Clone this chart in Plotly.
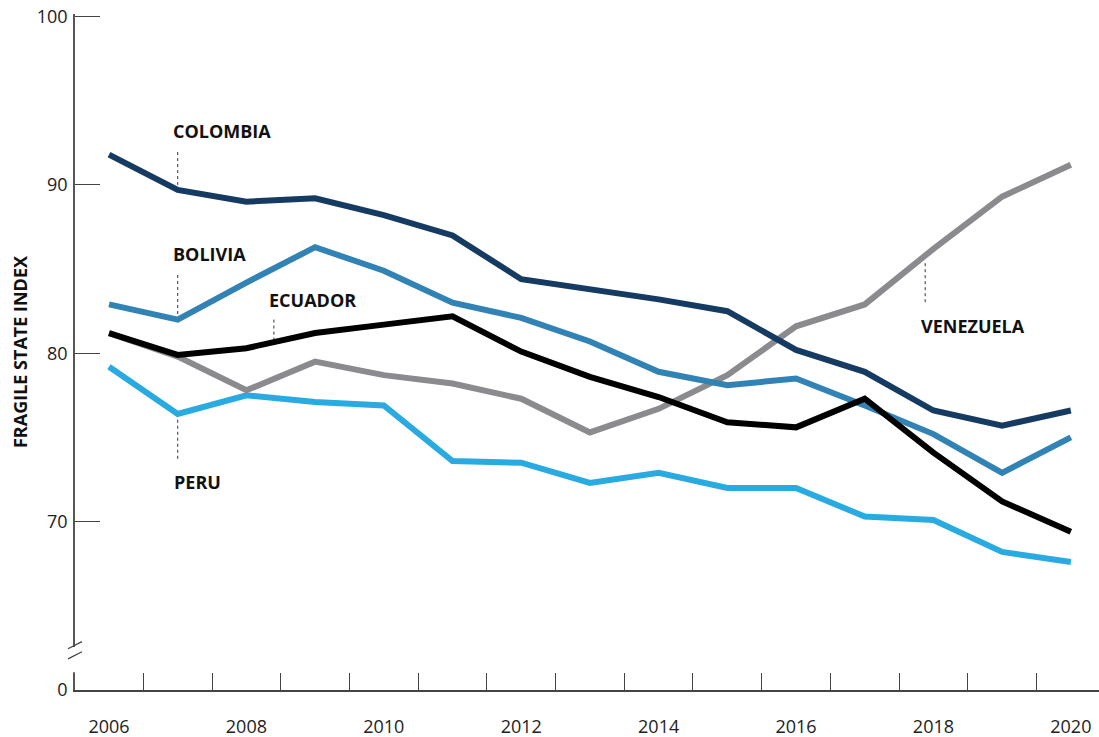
import plotly.graph_objects as go

years = list(range(2006, 2021))
colombia = [91.8, 89.7, 89.0, 89.2, 88.2, 87.0, 84.4, 83.8, 83.2, 82.5, 80.2, 78.9, 76.6, 75.7, 76.6]
bolivia = [82.9, 82.0, 84.2, 86.3, 84.9, 83.0, 82.1, 80.7, 78.9, 78.1, 78.5, 76.9, 75.2, 72.9, 75.0]
ecuador = [81.2, 79.9, 80.3, 81.2, 81.7, 82.2, 80.1, 78.6, 77.4, 75.9, 75.6, 77.3, 74.1, 71.2, 69.4]
venezuela = [81.2, 79.8, 77.8, 79.5, 78.7, 78.2, 77.3, 75.3, 76.7, 78.7, 81.6, 82.9, 86.2, 89.3, 91.2]
peru = [79.2, 76.4, 77.5, 77.1, 76.9, 73.6, 73.5, 72.3, 72.9, 72.0, 72.0, 70.3, 70.1, 68.2, 67.6]

series = [
    ("Peru", peru, "#29abe2"),
    ("Venezuela", venezuela, "#8b8b8f"),
    ("Bolivia", bolivia, "#3283b5"),
    ("Colombia", colombia, "#153b63"),
    ("Ecuador", ecuador, "#000000"),
]

ytick_vals = [60, 70, 80, 90, 100]
ytick_text = ["0", "70", "80", "90", "100"]
xtick_vals = [2006, 2008, 2010, 2012, 2014, 2016, 2018, 2020]
xminor_vals = [y + 0.5 for y in range(2006, 2020)]

# label: (text, text_x, text_y, leader_x, leader_y0, leader_y1)
labels = [
    ("COLOMBIA", 2006.90, 93.2, 2007, 91.95, 90.0),
    ("BOLIVIA", 2006.90, 85.9, 2007, 84.65, 82.3),
    ("ECUADOR", 2008.30, 83.18, 2008.4, 82.0, 80.85),
    ("PERU", 2006.92, 72.37, 2007, 76.05, 73.7),
    ("VENEZUELA", 2017.79, 81.64, 2017.88, 85.35, 82.95),
]

fig = go.Figure()
for name, vals, col in series:
    fig.add_trace(go.Scatter(x=years, y=vals, mode="lines", name=name,
                             line=dict(color=col, width=6), hoverinfo="x+y+name"))

font_fam = "Open Sans, Lato, sans-serif"
annotations = []
shapes = []
for text, tx, ty, lx, ly0, ly1 in labels:
    annotations.append(dict(x=tx, y=ty, xref="x", yref="y", text=f"<b>{text}</b>",
                            showarrow=False, xanchor="left", yanchor="middle",
                            font=dict(family=font_fam, size=18, color="#111")))
    shapes.append(dict(type="line", xref="x", yref="y", x0=lx, x1=lx, y0=ly0, y1=ly1,
                       line=dict(color="#333", width=1, dash="dot"), layer="above"))

annotations.append(dict(x=-0.0537, y=0.5, xref="paper", yref="paper",
                        text="<b>FRAGILE STATE INDEX</b>", textangle=-90, showarrow=False,
                        xanchor="center", yanchor="middle",
                        font=dict(family=font_fam, size=18, color="#111")))

# axis break
shapes.append(dict(type="rect", xref="paper", yref="y", x0=-0.004, x1=0.004,
                   y0=61.05, y1=62.55, fillcolor="white", line=dict(width=0), layer="above"))
shapes.append(dict(type="line", xref="paper", yref="y", x0=-0.0068, x1=0.0068,
                   y0=61.85, y1=62.27, line=dict(color="#444", width=1.3), layer="above"))
shapes.append(dict(type="line", xref="paper", yref="y", x0=-0.0068, x1=0.0068,
                   y0=62.45, y1=62.87, line=dict(color="#444", width=1.3), layer="above"))

fig.update_layout(
    width=1099, height=737,
    margin=dict(l=75, r=0, t=14, b=47),
    paper_bgcolor="white", plot_bgcolor="white",
    showlegend=False,
    annotations=annotations,
    shapes=shapes,
    font=dict(family=font_fam, size=18, color="#222"),
)
fig.update_xaxes(
    range=[2005.505, 2020.41], showgrid=False, zeroline=False,
    showline=True, linecolor="#444", linewidth=1.5,
    tickvals=xtick_vals, ticks="", ticklabelstandoff=20,
    tickfont=dict(family=font_fam, size=18, color="#222"),
    minor=dict(tickvals=xminor_vals, ticks="inside", ticklen=17, tickcolor="#444", tickwidth=1.3),
)
fig.update_yaxes(
    range=[60, 100.15], showgrid=False, zeroline=False,
    showline=True, linecolor="#555", linewidth=1.5,
    tickvals=ytick_vals, ticktext=ytick_text, ticks="inside", ticklen=25,
    tickcolor="#444", tickwidth=1.3, ticklabelstandoff=2,
    tickfont=dict(family=font_fam, size=18, color="#222"),
)

fig.write_html("out.html", config={"displayModeBar": False},
               post_script="document.body.style.margin='0';document.body.style.overflow='hidden';")
